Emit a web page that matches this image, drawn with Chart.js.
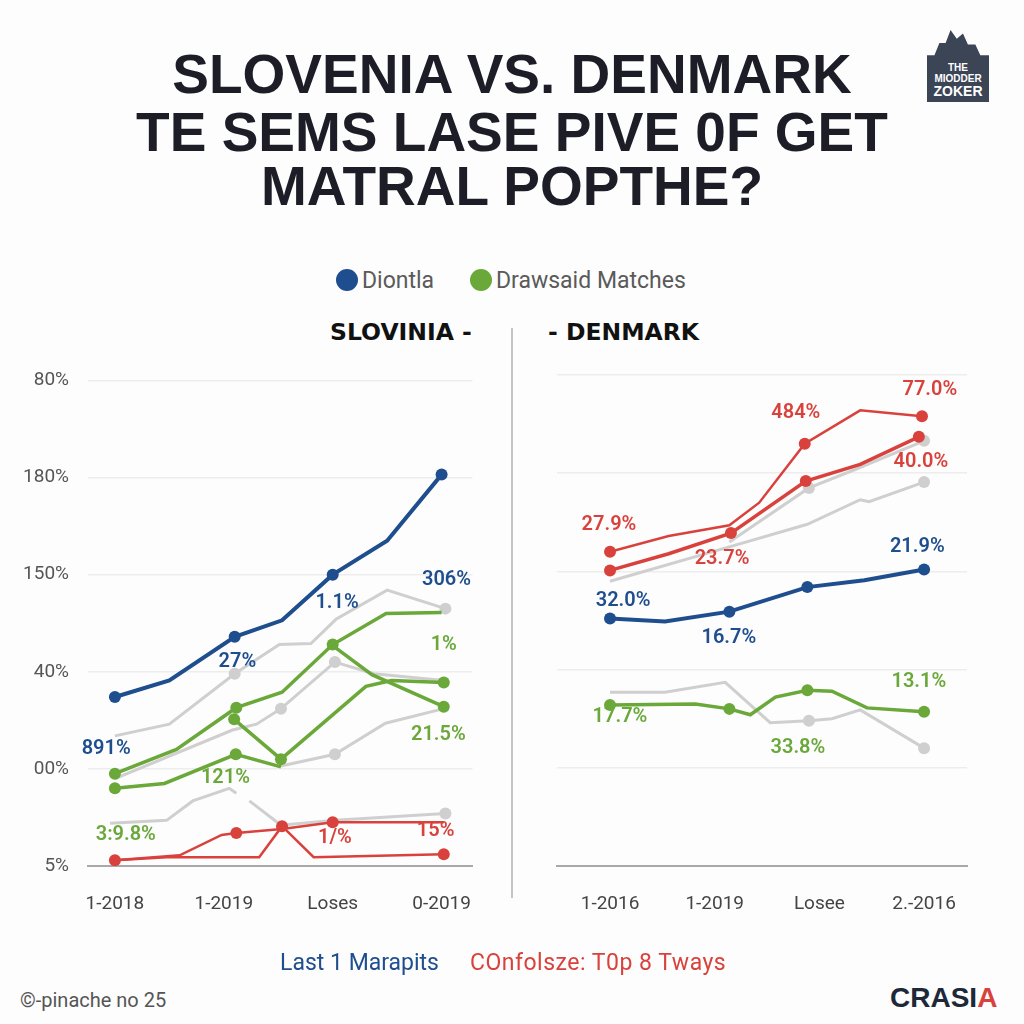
<!DOCTYPE html>
<html>
<head>
<meta charset="utf-8">
<script src="https://cdn.jsdelivr.net/npm/chart.js@4.4.1/dist/chart.umd.min.js"></script>
<style>
  body { margin: 0; width: 1024px; height: 1024px; background: #fdfdfd; position: relative; overflow: hidden; font-family: Roboto, sans-serif; }
  .title { position: absolute; left: 0; width: 1024px; text-align: center; font-family: "Liberation Sans", sans-serif; font-weight: bold; font-size: 55px; color: #1c1d27; }
  .legend { position: absolute; top: 267px; font-size: 23px; color: #5a5a5a; }
  .dot { display: inline-block; width: 22px; height: 22px; border-radius: 50%; vertical-align: -3px; margin-right: 4px; }
  .sub { position: absolute; top: 318px; font-family: "DejaVu Sans", sans-serif; font-weight: bold; font-size: 23.5px; color: #111; }
  .sep { position: absolute; left: 511px; top: 328px; width: 2px; height: 570px; background: #c4c4c4; }
  .foot { position: absolute; top: 949px; font-size: 23px; }
  canvas { position: absolute; top: 350px; }
  .logo { position: absolute; left: 927px; top: 30px; width: 62px; height: 72px; background: #3b4556; color: #fff; text-align: center; font-family: "Liberation Sans", sans-serif; font-weight: bold;
    clip-path: polygon(0 100%, 0 35%, 12% 35%, 20% 18%, 30% 18%, 38% 0, 48% 12%, 58% 5%, 66% 20%, 78% 20%, 86% 35%, 100% 35%, 100% 100%); }
</style>
</head>
<body>
<div class="title" style="top:42px">SLOVENIA VS. DENMARK</div>
<div class="title" style="top:100px">TE SEMS LASE PIVE 0F GET</div>
<div class="title" style="top:154px">MATRAL POPTHE?</div>

<div class="logo"><div style="font-size:10px;margin-top:32px">THE</div><div style="font-size:10px">MIODDER</div><div style="font-size:14px;line-height:14px">ZOKER</div></div>

<div class="legend" style="left:336px"><span class="dot" style="background:#1f4e8f"></span>Diontla</div>
<div class="legend" style="left:470px"><span class="dot" style="background:#6aa83a"></span>Drawsaid Matches</div>

<div class="sub" style="left:330px">SLOVINIA -</div>
<div class="sub" style="left:548px">- DENMARK</div>
<div class="sep"></div>

<canvas id="leftChart" width="500" height="600" style="left:0"></canvas>
<canvas id="rightChart" width="512" height="600" style="left:512px"></canvas>

<div class="foot" style="left:280px;color:#1f4e8f">Last 1 Marapits</div>
<div class="foot" style="left:470px;color:#d9423c;letter-spacing:0.5px">COnfolsze: T0p 8 Tways</div>
<div style="position:absolute;left:20px;top:988px;font-size:20px;color:#555">©-pinache no 25</div>
<div style="position:absolute;left:890px;top:982px;font-size:28px;font-weight:bold;font-family:'Liberation Sans',sans-serif;color:#1d2838">CRASI<span style="color:#d9423c">A</span></div>

<script>
// etiquetas de los ejes
const yTickLabels = ['5%', '00%', '40%', '150%', '180%', '80%'];
const leftXLabels = ['1-2018', '1-2019', 'Loses', '0-2019'];
const rightXLabels = ['1-2016', '1-2019', 'Losee', '2.-2016'];
const xTickValues = [0, 2, 4, 6];

// colores de cada serie
const colors = {
  blue: '#1f4e8f',
  green: '#6aa83a',
  red: '#d9423c',
  gray: '#cfcfcf'
};

// ---- SLOVENIA (izquierda) ----
const slvBlueX = [0, 1, 2.2, 3.07, 4, 5, 6];
const slvBlueY = [1.74, 1.91, 2.36, 2.53, 3.0, 3.35, 4.03];
const slvBlueDots = [0, 2, 4, 6];

const slvGreenAX = [0, 1.13, 2.23, 3.07, 4.0, 4.98, 6.0];
const slvGreenAY = [0.95, 1.2, 1.63, 1.79, 2.28, 2.6, 2.61];
const slvGreenADots = [0, 2, 4];

const slvGreenBX = [2.19, 3.05, 4.61, 5.08, 6.04];
const slvGreenBY = [1.51, 1.1, 1.85, 1.91, 1.89];
const slvGreenBDots = [0, 1, 4];

const slvGreenCX = [4.0, 4.72, 6.04];
const slvGreenCY = [2.27, 1.97, 1.64];
const slvGreenCDots = [2];

const slvGreenDX = [0, 0.91, 2.22, 3.05];
const slvGreenDY = [0.8, 0.85, 1.15, 1.02];
const slvGreenDDots = [0, 2];

const slvRedAX = [0, 1.19, 1.96, 2.23, 3.07, 4.0, 6.04];
const slvRedAY = [0.06, 0.11, 0.32, 0.34, 0.38, 0.45, 0.45];
const slvRedADots = [0, 3, 5];

const slvRedBX = [0, 0.95, 2.65, 3.07, 3.65, 6.04];
const slvRedBY = [0.06, 0.09, 0.09, 0.41, 0.09, 0.12];
const slvRedBDots = [3, 5];

const slvGrayAX = [0, 1.0, 2.2, 3.02, 3.6, 4.06, 5.0, 6.07];
const slvGrayAY = [1.34, 1.46, 1.98, 2.28, 2.29, 2.54, 2.84, 2.65];
const slvGrayADots = [2, 7];

const slvGrayBX = [0, 2.16, 2.6, 3.05, 4.04, 4.76, 6.04];
const slvGrayBY = [0.9, 1.4, 1.46, 1.62, 2.1, 1.98, 1.91];
const slvGrayBDots = [3, 4];

const slvGrayCX = [3.05, 4.04, 4.97, 6.04];
const slvGrayCY = [1.03, 1.15, 1.47, 1.62];
const slvGrayCDots = [1];

const slvGrayDX = [-0.09, 0.95, 1.43, 2.1, 2.23, 2.35, 2.47, 3.05, 4.04, 6.07];
const slvGrayDY = [0.44, 0.47, 0.67, 0.8, 0.75, null, 0.67, 0.42, 0.47, 0.54];
const slvGrayDDots = [9];

// ---- DENMARK (derecha) ----
const denBlueX = [0, 1.05, 2.28, 3.77, 4.86, 6];
const denBlueY = [2.52, 2.49, 2.59, 2.84, 2.91, 3.02];
const denBlueDots = [0, 2, 3, 5];

const denRedAX = [0, 1.12, 2.28, 2.85, 3.72, 4.78, 5.96];
const denRedAY = [3.2, 3.36, 3.47, 3.7, 4.3, 4.64, 4.58];
const denRedADots = [0, 4, 6];

const denRedBX = [0, 1.12, 2.31, 3.74, 4.78, 5.9];
const denRedBY = [3.01, 3.18, 3.39, 3.92, 4.09, 4.37];
const denRedBDots = [0, 2, 3, 5];

const denGreenX = [0, 1.63, 2.28, 2.68, 3.16, 3.77, 4.24, 4.91, 6];
const denGreenY = [1.64, 1.65, 1.6, 1.54, 1.72, 1.79, 1.78, 1.61, 1.57];
const denGreenDots = [0, 2, 5, 8];

const denGrayAX = [0, 2.28, 3.77, 4.78, 4.95, 6];
const denGrayAY = [2.9, 3.25, 3.48, 3.73, 3.71, 3.91];
const denGrayADots = [5];

const denGrayBX = [2.28, 3.8, 4.6, 6];
const denGrayBY = [3.3, 3.85, 4.02, 4.33];
const denGrayBDots = [1, 3];

const denGrayCX = [0, 1.05, 2.2, 3.06, 3.8, 4.24, 4.78, 6];
const denGrayCY = [1.77, 1.77, 1.87, 1.46, 1.48, 1.5, 1.59, 1.2];
const denGrayCDots = [4, 7];

// etiquetas de valores sobre el grafico
const slvLabelText = ['306%', '1.1%', '27%', '891%', '1%', '21.5%', '121%', '3:9.8%', '1/%', '15%'];
const slvLabelX = [6.09, 4.08, 2.25, -0.16, 6.04, 5.94, 2.03, 0.2, 4.04, 5.89];
const slvLabelY = [2.94, 2.71, 2.1, 1.2, 2.28, 1.35, 0.91, 0.32, 0.29, 0.36];
const slvLabelColor = ['blue', 'blue', 'blue', 'blue', 'green', 'green', 'green', 'green', 'red', 'red'];

const denLabelText = ['77.0%', '484%', '40.0%', '27.9%', '23.7%', '21.9%', '32.0%', '16.7%', '13.1%', '17.7%', '33.8%'];
const denLabelX = [6.11, 3.55, 5.94, -0.02, 2.14, 5.87, 0.25, 2.27, 5.9, 0.19, 3.59];
const denLabelY = [4.85, 4.61, 4.11, 3.47, 3.13, 3.25, 2.7, 2.32, 1.87, 1.52, 1.2];
const denLabelColor = ['red', 'red', 'red', 'red', 'red', 'blue', 'blue', 'blue', 'green', 'green', 'green'];

// arma un dataset de linea a partir de los arrays
function series(xs, ys, dots, color, width) {
  return {
    data: xs.map((x, i) => ({ x: x, y: ys[i] })),
    borderColor: colors[color],
    backgroundColor: colors[color],
    borderWidth: width,
    pointRadius: xs.map((x, i) => dots.includes(i) ? 6 : 0),
    pointBorderWidth: 0,
    tension: 0,
    spanGaps: false
  };
}

// plugin que dibuja los textos de valores usando las escalas
const pointLabels = {
  id: 'pointLabels',
  afterDatasetsDraw(chart, args, opts) {
    const { ctx, scales: { x, y } } = chart;
    ctx.save();
    ctx.font = '600 20px Roboto';
    ctx.textAlign = 'center';
    ctx.textBaseline = 'middle';
    opts.text.forEach((t, i) => {
      ctx.fillStyle = colors[opts.color[i]];
      ctx.fillText(t, x.getPixelForValue(opts.x[i]), y.getPixelForValue(opts.y[i]));
    });
    ctx.restore();
  }
};

function makeChart(id, datasets, cfg) {
  return new Chart(document.getElementById(id), {
    type: 'line',
    data: { datasets: datasets },
    plugins: [pointLabels],
    options: {
      responsive: false,
      animation: false,
      layout: { padding: { top: 25, right: cfg.padRight, left: 0, bottom: 0 } },
      plugins: {
        legend: { display: false },
        tooltip: { enabled: false },
        pointLabels: cfg.labels
      },
      scales: {
        x: {
          type: 'linear',
          min: cfg.xMin,
          max: cfg.xMax,
          grid: { display: false, drawTicks: false },
          border: { display: true, color: '#a9a9a9', width: 2 },
          afterBuildTicks: (s) => { s.ticks = xTickValues.map(v => ({ value: v })); },
          afterFit: (s) => { s.height = 84; },
          ticks: {
            padding: 27,
            color: '#444',
            font: { size: 19, family: 'Roboto' },
            callback: (v) => cfg.xLabels[xTickValues.indexOf(v)]
          }
        },
        y: {
          min: 0,
          max: 5,
          border: { display: false },
          grid: {
            drawTicks: false,
            lineWidth: 1.5,
            color: (c) => c.tick && c.tick.value === 0 ? 'transparent' : '#ededed'
          },
          afterFit: (s) => { s.width = cfg.yWidth; },
          ticks: {
            display: cfg.showY,
            stepSize: 1,
            padding: 19,
            color: '#555',
            font: { size: 19, family: 'Roboto' },
            callback: (v) => yTickLabels[v]
          }
        }
      }
    }
  });
}

// grafico de Eslovenia (grises al final para quedar debajo)
makeChart('leftChart', [
  series(slvBlueX, slvBlueY, slvBlueDots, 'blue', 4),
  series(slvGreenAX, slvGreenAY, slvGreenADots, 'green', 3.5),
  series(slvGreenBX, slvGreenBY, slvGreenBDots, 'green', 3.5),
  series(slvGreenCX, slvGreenCY, slvGreenCDots, 'green', 3.5),
  series(slvGreenDX, slvGreenDY, slvGreenDDots, 'green', 3.5),
  series(slvRedAX, slvRedAY, slvRedADots, 'red', 2.5),
  series(slvRedBX, slvRedBY, slvRedBDots, 'red', 2.5),
  series(slvGrayAX, slvGrayAY, slvGrayADots, 'gray', 3),
  series(slvGrayBX, slvGrayBY, slvGrayBDots, 'gray', 3),
  series(slvGrayCX, slvGrayCY, slvGrayCDots, 'gray', 3),
  series(slvGrayDX, slvGrayDY, slvGrayDDots, 'gray', 3)
], {
  xMin: -0.494, xMax: 6.567, padRight: 26, yWidth: 88, showY: true,
  xLabels: leftXLabels,
  labels: { text: slvLabelText, x: slvLabelX, y: slvLabelY, color: slvLabelColor }
});

// grafico de Dinamarca
makeChart('rightChart', [
  series(denBlueX, denBlueY, denBlueDots, 'blue', 4),
  series(denRedAX, denRedAY, denRedADots, 'red', 2.5),
  series(denRedBX, denRedBY, denRedBDots, 'red', 3.5),
  series(denGreenX, denGreenY, denGreenDots, 'green', 3.5),
  series(denGrayAX, denGrayAY, denGrayADots, 'gray', 3),
  series(denGrayBX, denGrayBY, denGrayBDots, 'gray', 3),
  series(denGrayCX, denGrayCY, denGrayCDots, 'gray', 3)
], {
  xMin: -1.013, xMax: 6.82, padRight: 57, yWidth: 45, showY: false,
  xLabels: rightXLabels,
  labels: { text: denLabelText, x: denLabelX, y: denLabelY, color: denLabelColor }
});
</script>
</body>
</html>
